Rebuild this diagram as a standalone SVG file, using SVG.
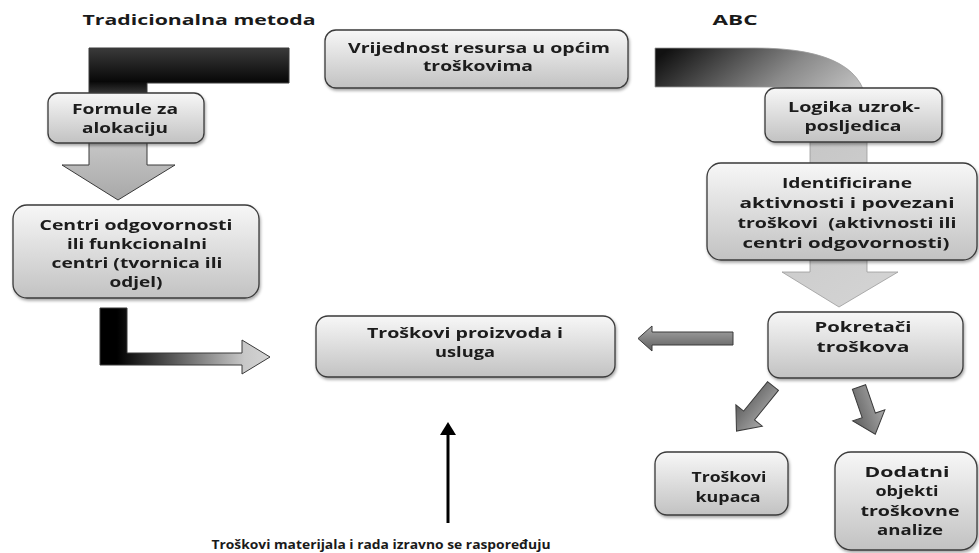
<svg xmlns="http://www.w3.org/2000/svg" width="979" height="553" viewBox="0 0 979 553">
<style>
.t{font-family:"Open Sans","Liberation Sans",sans-serif;font-weight:700;font-size:14px;fill:#1a1a1a;text-anchor:middle;white-space:pre}
.node{fill:url(#ng);stroke:#3a3a3a;stroke-width:1.3}
.arr{stroke:#3a3a3a;stroke-width:1}
</style>
<defs>
<linearGradient id="ng" x1="0" y1="0" x2="0" y2="1">
<stop offset="0" stop-color="#f7f7f7"/>
<stop offset="1" stop-color="#c2c2c2"/>
</linearGradient>
<linearGradient id="gTL" gradientUnits="userSpaceOnUse" x1="0" y1="48" x2="0" y2="200">
<stop offset="0" stop-color="#3a3a3a"/>
<stop offset="0.22" stop-color="#080808"/>
<stop offset="0.35" stop-color="#555"/>
<stop offset="0.65" stop-color="#c4c4c4"/>
<stop offset="1" stop-color="#a8a8a8"/>
</linearGradient>
<linearGradient id="gBL" gradientUnits="userSpaceOnUse" x1="100" y1="0" x2="270" y2="0">
<stop offset="0.1" stop-color="#000"/>
<stop offset="0.85" stop-color="#c8c8c8"/>
<stop offset="1" stop-color="#d4d4d4"/>
</linearGradient>
<linearGradient id="gR" gradientUnits="userSpaceOnUse" x1="655" y1="60" x2="850" y2="300">
<stop offset="0" stop-color="#111"/>
<stop offset="0.3" stop-color="#8a8a8a"/>
<stop offset="0.5" stop-color="#c6c6c6"/>
<stop offset="1" stop-color="#d2d2d2"/>
</linearGradient>
<linearGradient id="gG" x1="0" y1="0" x2="0" y2="1">
<stop offset="0" stop-color="#a8a8a8"/>
<stop offset="1" stop-color="#5e5e5e"/>
</linearGradient>
<filter id="sh" x="-10%" y="-10%" width="130%" height="140%">
<feDropShadow dx="1" dy="2" stdDeviation="1.5" flood-color="#000" flood-opacity="0.35"/>
</filter>
</defs>

<text class="t" x="199" y="25" textLength="233" lengthAdjust="spacingAndGlyphs">Tradicionalna metoda</text>
<text class="t" x="735" y="25" textLength="45" lengthAdjust="spacingAndGlyphs">ABC</text>

<g id="connectors">
<path class="arr" fill="url(#gTL)" d="M289,48 L89,48 L89,165 L62,165 L118,200 L175,165 L147,165 L147,83 L289,83 Z"/>
<path class="arr" fill="url(#gBL)" d="M100,308 L127,308 L127,353 L242,353 L242,340 L270,357 L242,374 L242,365 L100,365 Z"/>
<path fill="url(#gR)" stroke="#9a9a9a" stroke-width="0.8" d="M655,48 L755,48 Q867,48 867,110 L867,272 L898,272 L839,307 L782,272 L810,272 L810,110 Q810,87 775,87 L655,87 Z"/>
<path class="arr" fill="url(#gG)" d="M733,332 L652,332 L652,326 L638,338.5 L652,351 L652,345 L733,345 Z"/>
<path class="arr" fill="url(#gG)" transform="translate(773,386) rotate(129)" d="M0,-7 L38,-7 L38,-17 L58,0 L38,17 L38,7 L0,7 Z"/>
<path class="arr" fill="url(#gG)" transform="translate(859,387) rotate(71)" d="M0,-7 L30,-7 L30,-17 L50,0 L30,17 L30,7 L0,7 Z"/>
<line x1="448" y1="523" x2="448" y2="432" stroke="#000" stroke-width="3"/>
<polygon points="440,435 448,422 456,435" fill="#000"/>
</g>

<g id="n-vrijednost" filter="url(#sh)">
<rect class="node" x="325" y="30" width="303" height="58" rx="11"/>
<text class="t" x="479" y="53" textLength="262" lengthAdjust="spacingAndGlyphs">Vrijednost resursa u općim</text>
<text class="t" x="478" y="71" textLength="110" lengthAdjust="spacingAndGlyphs">troškovima</text>
</g>

<g id="n-formule" filter="url(#sh)">
<rect class="node" x="48" y="93" width="156" height="50" rx="10"/>
<text class="t" x="125" y="114" textLength="106" lengthAdjust="spacingAndGlyphs">Formule za</text>
<text class="t" x="125" y="133" textLength="86" lengthAdjust="spacingAndGlyphs">alokaciju</text>
</g>

<g id="n-centri" filter="url(#sh)">
<rect class="node" x="13" y="205" width="246" height="93" rx="14"/>
<text class="t" x="136" y="230" textLength="193" lengthAdjust="spacingAndGlyphs">Centri odgovornosti</text>
<text class="t" x="137" y="249" textLength="140" lengthAdjust="spacingAndGlyphs">ili funkcionalni</text>
<text class="t" x="137" y="268" textLength="171" lengthAdjust="spacingAndGlyphs">centri (tvornica ili</text>
<text class="t" x="136" y="287" textLength="53" lengthAdjust="spacingAndGlyphs">odjel)</text>
</g>

<g id="n-proizvoda" filter="url(#sh)">
<rect class="node" x="316" y="316" width="299" height="61" rx="12"/>
<text class="t" x="465" y="338" textLength="196" lengthAdjust="spacingAndGlyphs">Troškovi proizvoda i</text>
<text class="t" x="465" y="357" textLength="60" lengthAdjust="spacingAndGlyphs">usluga</text>
</g>

<g id="n-logika" filter="url(#sh)">
<rect class="node" x="765" y="88" width="177" height="54" rx="10"/>
<text class="t" x="854" y="112" textLength="132" lengthAdjust="spacingAndGlyphs">Logika uzrok-</text>
<text class="t" x="853" y="131" textLength="97" lengthAdjust="spacingAndGlyphs">posljedica</text>
</g>

<g id="n-identificirane" filter="url(#sh)">
<rect class="node" x="707" y="163" width="270" height="97" rx="14"/>
<text class="t" x="847" y="188" textLength="130" lengthAdjust="spacingAndGlyphs">Identificirane</text>
<text class="t" x="847" y="208" textLength="215" lengthAdjust="spacingAndGlyphs">aktivnosti i povezani</text>
<text class="t" x="847" y="228" textLength="219" lengthAdjust="spacingAndGlyphs">troškovi  (aktivnosti ili</text>
<text class="t" x="846" y="248" textLength="207" lengthAdjust="spacingAndGlyphs">centri odgovornosti)</text>
</g>

<g id="n-pokretaci" filter="url(#sh)">
<rect class="node" x="768" y="312" width="195" height="66" rx="12"/>
<text class="t" x="863" y="332" textLength="97" lengthAdjust="spacingAndGlyphs">Pokretači</text>
<text class="t" x="863" y="352" textLength="93" lengthAdjust="spacingAndGlyphs">troškova</text>
</g>

<g id="n-kupaca" filter="url(#sh)">
<rect class="node" x="655" y="452" width="133" height="63" rx="12"/>
<text class="t" x="729" y="482" textLength="75" lengthAdjust="spacingAndGlyphs">Troškovi</text>
<text class="t" x="728" y="502" textLength="65" lengthAdjust="spacingAndGlyphs">kupaca</text>
</g>

<g id="n-dodatni" filter="url(#sh)">
<rect class="node" x="835" y="452" width="142" height="98" rx="16"/>
<text class="t" x="907" y="477" textLength="85" lengthAdjust="spacingAndGlyphs">Dodatni</text>
<text class="t" x="907" y="496" textLength="63" lengthAdjust="spacingAndGlyphs">objekti</text>
<text class="t" x="910" y="516" textLength="99" lengthAdjust="spacingAndGlyphs">troškovne</text>
<text class="t" x="910" y="535" textLength="66" lengthAdjust="spacingAndGlyphs">analize</text>
</g>

<text class="t" x="381" y="549" textLength="339" lengthAdjust="spacingAndGlyphs" style="font-size:13px">Troškovi materijala i rada izravno se raspoređuju</text>
</svg>
